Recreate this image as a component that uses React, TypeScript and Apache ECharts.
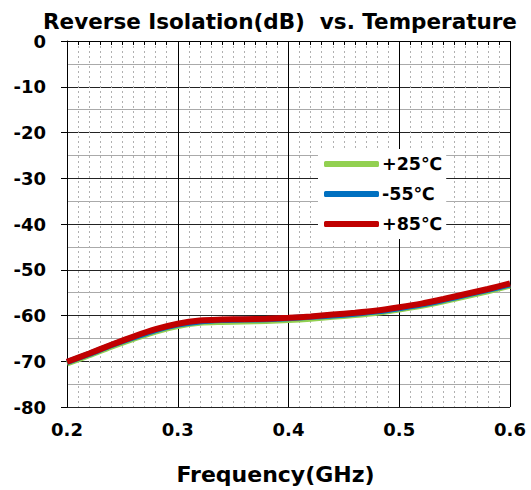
import React, { useEffect, useRef } from "react";
import * as echarts from "echarts";

const freqs = [0.2, 0.22, 0.24, 0.26, 0.28, 0.3, 0.32, 0.34, 0.36, 0.38, 0.4, 0.42, 0.44, 0.46, 0.48, 0.5, 0.52, 0.54, 0.56, 0.58, 0.6];
const p85 = [-70.1, -68.3, -66.4, -64.6, -63.0, -61.8, -61.1, -60.9, -60.8, -60.7, -60.5, -60.2, -59.8, -59.4, -58.9, -58.2, -57.4, -56.4, -55.3, -54.2, -53.0];
const m55 = [-70.2, -68.4, -66.5, -64.8, -63.2, -62.0, -61.3, -61.0, -60.9, -60.8, -60.6, -60.3, -60.0, -59.6, -59.1, -58.4, -57.6, -56.6, -55.5, -54.4, -53.2];
const p25 = [-70.5, -68.7, -66.8, -65.1, -63.5, -62.3, -61.6, -61.4, -61.3, -61.2, -61.0, -60.7, -60.3, -59.9, -59.4, -58.7, -57.9, -56.9, -55.8, -54.7, -53.5];
const seriesNames = ["+25℃", "-55℃", "+85℃"];
const seriesColors = ["#92d050", "#0070c0", "#c00000"];
const yTicks = [0, -10, -20, -30, -40, -50, -60, -70, -80];

const FONT = "DejaVu Sans";

export default function App() {
  const ref = useRef<HTMLDivElement>(null);
  useEffect(() => {
    const chart = echarts.init(ref.current!, null, { renderer: "svg" });
    const datas = [p25, m55, p85];
    chart.setOption({
      animation: false,
      backgroundColor: "#fff",
      title: {
        text: "Reverse Isolation(dB)  vs. Temperature",
        left: 275,
        textAlign: "center",
        top: 5,
        textStyle: { fontFamily: FONT, fontWeight: "bold", fontSize: 21.5, color: "#000" },
      },
      legend: {
        data: seriesNames,
        orient: "vertical",
        left: 318,
        top: 149,
        itemWidth: 55,
        itemHeight: 6,
        itemGap: 12,
        backgroundColor: "#fff",
        padding: [6, 4, 6, 6],
        icon: "roundRect",
        textStyle: { fontFamily: FONT, fontWeight: "bold", fontSize: 17.5, color: "#000", padding: [0, 0, 0, -2] },
      },
      grid: { left: 67, right: 21, top: 41, bottom: 78 },
      xAxis: {
        type: "value",
        min: 0.2,
        max: 0.6,
        interval: 0.1,
        name: "Frequency(GHz)",
        nameLocation: "middle",
        nameGap: 56,
        nameTextStyle: { fontFamily: FONT, fontWeight: "bold", fontSize: 22, color: "#000", padding: [0, 26, 0, 0] },
        axisLine: { lineStyle: { color: "#000", width: 1 } },
        axisTick: { show: true, length: 7, lineStyle: { color: "#000" } },
        minorTick: { show: true, splitNumber: 10, length: 4, lineStyle: { color: "#000" } },
        axisLabel: {
          fontFamily: FONT, fontWeight: "bold", fontSize: 18, color: "#000", margin: 13,
          formatter: (v: number) => v.toFixed(1),
        },
        splitLine: { show: true, lineStyle: { color: "#000", width: 1 } },
        minorSplitLine: { show: true, lineStyle: { color: "#b0b0b0", width: 1, type: [2, 3] } },
      },
      yAxis: {
        type: "value",
        min: -80,
        max: 0,
        interval: 10,
        axisLine: { show: true, lineStyle: { color: "#000", width: 1 } },
        axisTick: { show: true, length: 6, lineStyle: { color: "#000" } },
        minorTick: { show: false, splitNumber: 2 },
        axisLabel: {
          fontFamily: FONT, fontWeight: "bold", fontSize: 18, color: "#000", margin: 21,
          formatter: (v: number) => (yTicks.includes(v) ? String(v) : ""),
        },
        splitLine: { show: true, lineStyle: { color: "#222", width: 1 } },
        minorSplitLine: { show: true, lineStyle: { color: "#aaa", width: 1 } },
      },
      series: seriesNames.map((name, i) => ({
        name,
        type: "line",
        smooth: 0.3,
        symbol: "none",
        data: freqs.map((f, j) => [f, datas[i][j]]),
        lineStyle: { color: seriesColors[i], width: 6 },
        itemStyle: { color: seriesColors[i] },
        z: 2 + i,
      })),
    });
    return () => chart.dispose();
  }, []);
  return <div ref={ref} style={{ position: "absolute", left: 0, top: 0, width: 531, height: 490 }} />;
}
